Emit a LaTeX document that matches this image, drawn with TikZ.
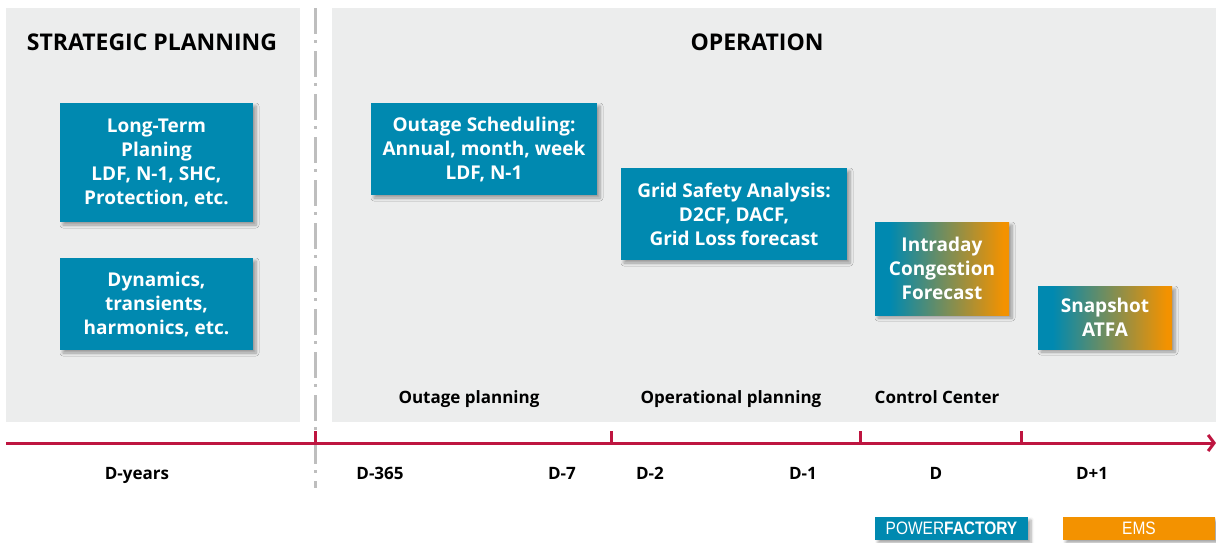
\documentclass[tikz,border=0pt]{standalone}
\usepackage{fontspec}
\setmainfont{Open Sans}
\newfontfamily\legendfont[FakeStretch=0.86]{Liberation Sans}
\usetikzlibrary{arrows.meta,shadows.blur}
\definecolor{pfblue}{RGB}{0,137,176}
\definecolor{emsorange}{RGB}{243,146,0}
\definecolor{axisred}{RGB}{190,21,64}
\definecolor{panelgray}{RGB}{236,237,237}
\definecolor{sepgray}{RGB}{190,190,190}
\pgfdeclarehorizontalshading{pfems}{100bp}{color(0bp)=(pfblue); color(30.5bp)=(pfblue); color(73bp)=(emsorange); color(100bp)=(emsorange)}
\tikzset{
  panel/.style={fill=panelgray, draw=none},
  boxshadow/.style={blur shadow={shadow xshift=3pt, shadow yshift=-3pt, shadow blur steps=6, shadow opacity=35, shadow blur radius=3pt}},
  taskbox/.style={rectangle, inner sep=0pt, fill=pfblue, text=white, align=center, boxshadow,
    font=\bfseries\fontsize{19}{24}\selectfont},
  gradbox/.style={taskbox, shading=pfems},
  header/.style={font=\bfseries\fontsize{23}{27}\selectfont, text height=0.72em, text depth=0pt, inner sep=0pt},
  lbl/.style={font=\bfseries\fontsize{17}{20}\selectfont, text height=0.72em, text depth=0pt, inner sep=0pt},
  legendbox/.style={rectangle, inner sep=0pt, text=white, boxshadow, font=\legendfont\fontsize{18}{20}\selectfont},
  axisline/.style={draw=axisred, line width=3pt},
  sepline/.style={draw=sepgray, line width=3pt, dash pattern=on 26pt off 6pt on 3pt off 8pt},
}
\begin{document}
\begin{tikzpicture}[x=1pt,y=-1pt]
\useasboundingbox (0,0) rectangle (1216,542);
% panels
\fill[panel] (6,8) rectangle (300,422);
\fill[panel] (332,8) rectangle (1216,422);
% separator
\coordinate (sepTop) at (315,8);
\coordinate (sepBot) at (315,488);
\draw[sepline] (sepTop) -- (sepBot);
% headers
\node[header] (hStrat) at (152,47) {STRATEGIC PLANNING};
\node[header] (hOper) at (757,47) {OPERATION};
% task boxes
\node[taskbox, minimum width=193pt, minimum height=119pt] (longterm) at (156.5,162.5) {Long-Term\\Planing\\LDF, N-1, SHC,\\Protection, etc.};
\node[taskbox, minimum width=193pt, minimum height=92pt] (dynamics) at (156.5,304) {Dynamics,\\transients,\\harmonics, etc.};
\node[taskbox, minimum width=226pt, minimum height=92pt] (outage) at (484,149) {Outage Scheduling:\\Annual, month, week\\LDF, N-1};
\node[taskbox, minimum width=226pt, minimum height=92pt] (gridsafety) at (734,214) {Grid Safety Analysis:\\D2CF, DACF,\\Grid Loss forecast};
\node[gradbox, minimum width=134pt, minimum height=93pt] (intraday) at (942,268.5) {Intraday\\Congestion\\Forecast};
\node[gradbox, minimum width=134pt, minimum height=63pt] (snapshot) at (1105,317.5) {Snapshot\\ATFA};
% phase labels
\node[lbl] (lOutage) at (469,400) {Outage planning};
\node[lbl] (lOper) at (731,400) {Operational planning};
\node[lbl] (lControl) at (937,400) {Control Center};
% axis
\coordinate (axL) at (6,443);
\coordinate (axR) at (1216,443);
\draw[axisline, -{Straight Barb[length=6pt,width=16pt,line width=3pt]}] (axL) -- (axR);
\foreach \x/\n in {315/t1, 611/t2, 860/t3, 1021/t4}{
  \coordinate (\n) at (\x,443);
  \draw[axisred, line width=3pt] (\n) -- ++(0,-12);
}
% time labels
\node[lbl] (dYears) at (137,476) {D-years};
\node[lbl] (d365) at (380,476) {D-365};
\node[lbl] (d7) at (562,476) {D-7};
\node[lbl] (d2) at (650,476) {D-2};
\node[lbl] (d1) at (803,476) {D-1};
\node[lbl] (dD) at (936,476) {D};
\node[lbl] (dP1) at (1092,476) {D+1};
% legend
\node[legendbox, fill=pfblue, minimum width=153pt, minimum height=23pt] (legPF) at (951.5,528.5) {POWER\textbf{FACTORY}};
\node[legendbox, fill=emsorange, minimum width=152pt, minimum height=23pt] (legEMS) at (1139,528.5) {EMS};
\end{tikzpicture}
\end{document}
